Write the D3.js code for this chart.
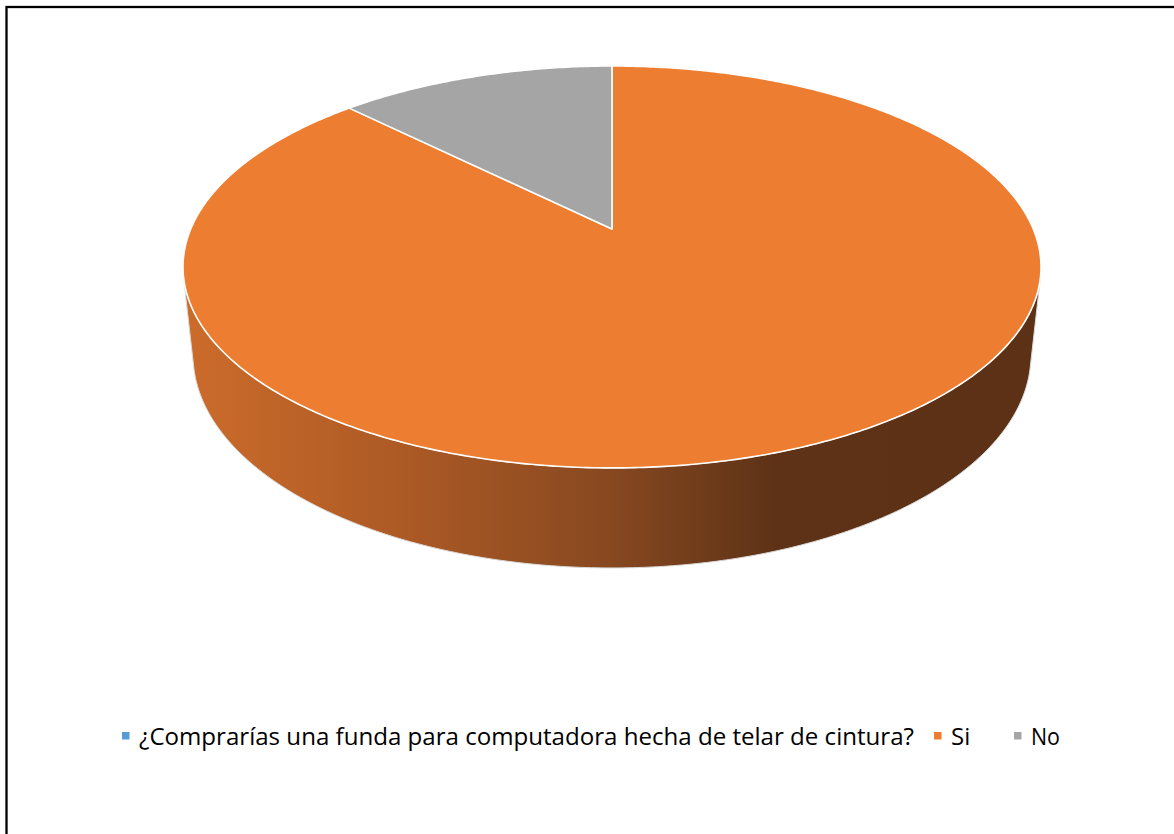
<!DOCTYPE html>
<html>
<head>
<meta charset="utf-8">
<script src="https://cdn.jsdelivr.net/npm/d3@7"></script>
<style>
  body { margin: 0; background: #fff; }
  svg { display: block; }
</style>
</head>
<body>
<div id="wrapper"></div>
<script>
// data
const categories = ["¿Comprarías una funda para computadora hecha de telar de cintura?", "Si", "No"];
const values = [0, 35, 5];
const colors = ["#5b9bd5", "#ed7d31", "#a5a5a5"];

const createChart = () => {
  const dimensions = { width: 1174, height: 834 };

  const wrapper = d3.select("#wrapper")
    .append("svg")
    .attr("width", dimensions.width)
    .attr("height", dimensions.height);

  // chart frame (only top and left edges fall inside the picture)
  wrapper.append("rect")
    .attr("x", 6.5)
    .attr("y", 7)
    .attr("width", 1300)
    .attr("height", 1000)
    .attr("fill", "none")
    .attr("stroke", "#000")
    .attr("stroke-width", 2.3);

  // perspective camera for the 3d pie
  const cam = {
    cx: 612,     // projected centre of the pie
    cy: 229,
    focal: 1980,
    dist: 4.70,  // camera distance in pie radii
    sinPhi: 0.46,
    depth: 0.238 // pie thickness in radii
  };
  cam.cosPhi = Math.sqrt(1 - cam.sinPhi * cam.sinPhi);

  // angle clockwise from 12 o'clock, r in pie radii, z = 0 is the top face
  const project = (a, z, r = 1) => {
    const u = r * Math.sin(a);
    const v = r * Math.cos(a);
    const d = cam.dist + v * cam.cosPhi - z * cam.sinPhi;
    return [
      cam.cx + cam.focal * u / d,
      cam.cy - cam.focal * (v * cam.sinPhi + z * cam.cosPhi) / d
    ];
  };

  const arcPoints = (a0, a1, z) => {
    const n = Math.max(2, Math.ceil(Math.abs(a1 - a0) / 0.01));
    return d3.range(n + 1).map((i) => project(a0 + (a1 - a0) * i / n, z));
  };

  const line = d3.line();

  const pie = d3.pie()
    .sort(null)
    .value((d) => d.value);

  const arcs = pie(categories.map((c, i) => ({ name: c, value: values[i], color: colors[i] })));

  // side wall gradient
  const defs = wrapper.append("defs");
  const grad = defs.append("linearGradient")
    .attr("id", "wall")
    .attr("gradientUnits", "userSpaceOnUse")
    .attr("x1", 183).attr("x2", 1041)
    .attr("y1", 0).attr("y2", 0);
  [[0, "#cc6c2b"], [0.25, "#ad5a25"], [0.5, "#874820"], [0.69, "#5e3216"], [1, "#5c3115"]]
    .forEach(([o, c]) => grad.append("stop").attr("offset", o).attr("stop-color", c));

  // visible range of the outer wall
  const limit = Math.acos(-1 / (cam.dist * cam.cosPhi));
  const wallStart = limit;
  const wallEnd = 2 * Math.PI - limit;

  const pieG = wrapper.append("g");

  arcs.forEach((d) => {
    const a0 = Math.max(d.startAngle, wallStart);
    const a1 = Math.min(d.endAngle, wallEnd);
    if (a1 <= a0) return;
    const pts = arcPoints(a0, a1, 0).concat(arcPoints(a1, a0, -cam.depth));
    pieG.append("path")
      .attr("d", line(pts) + "Z")
      .attr("fill", d.data.color === colors[1] ? "url(#wall)" : d3.color(d.data.color).darker(1.2))
      .attr("stroke", "#d9d9d9")
      .attr("stroke-width", 1);
  });

  // top faces
  arcs.forEach((d) => {
    if (d.endAngle - d.startAngle <= 0) return;
    const pts = [project(0, 0, 0)].concat(arcPoints(d.startAngle, d.endAngle, 0));
    pieG.append("path")
      .attr("d", line(pts) + "Z")
      .attr("fill", d.data.color)
      .attr("stroke", "#fff")
      .attr("stroke-width", 1.6)
      .attr("stroke-linejoin", "round");
  });

  // legend
  const legendX = [122, 934, 1014];
  const legendW = [775, 18, 29];
  const legend = wrapper.append("g");

  categories.forEach((c, i) => {
    legend.append("rect")
      .attr("x", legendX[i])
      .attr("y", 732)
      .attr("width", 7.5)
      .attr("height", 7.5)
      .attr("fill", colors[i]);

    const t = legend.append("text")
      .attr("x", legendX[i] + 17)
      .attr("y", 744.5)
      .attr("font-family", "'Open Sans', sans-serif")
      .attr("font-size", 24)
      .attr("fill", "#000")
      .text(c);

    const w = t.node().getComputedTextLength();
    if (Math.abs(w - legendW[i]) > 2) {
      t.attr("textLength", legendW[i]).attr("lengthAdjust", "spacingAndGlyphs");
    }
  });
};

createChart();
</script>
</body>
</html>
